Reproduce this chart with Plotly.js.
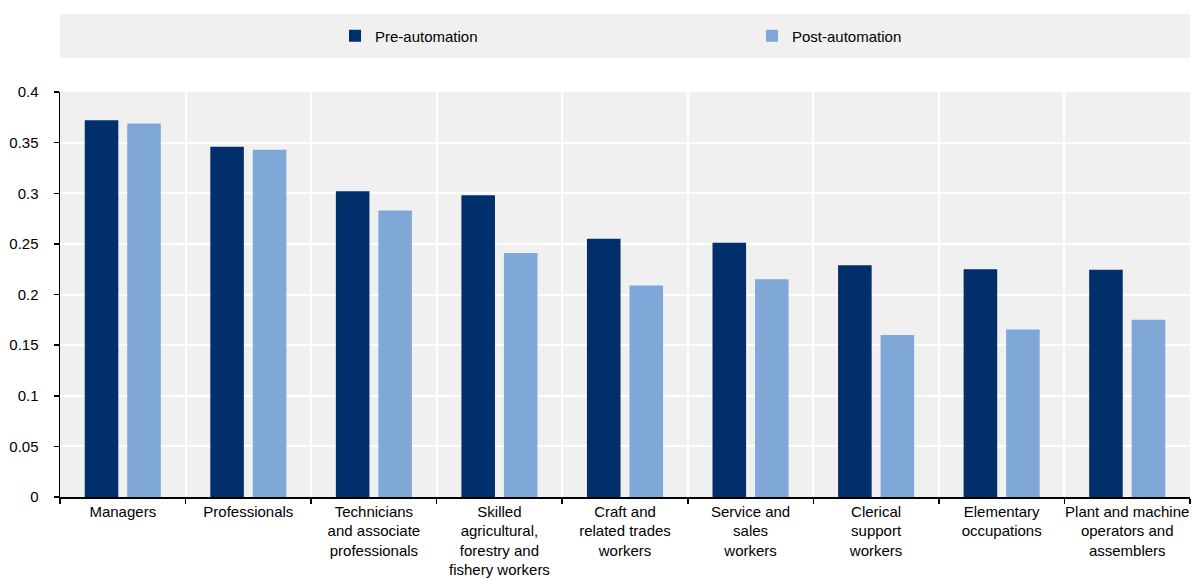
<!DOCTYPE html>
<html>
<head>
<meta charset="utf-8">
<script src="https://cdn.plot.ly/plotly-3.0.1.min.js"></script>
<style>html,body{margin:0;padding:0;background:#fff;}#chart{width:1192px;height:588px;}</style>
</head>
<body>
<div id="chart"></div>
<script>
const categories = [
  "Managers",
  "Professionals",
  "Technicians<br>and associate<br>professionals",
  "Skilled<br>agricultural,<br>forestry and<br>fishery workers",
  "Craft and<br>related trades<br>workers",
  "Service and<br>sales<br>workers",
  "Clerical<br>support<br>workers",
  "Elementary<br>occupations",
  "Plant and machine<br>operators and<br>assemblers"
];
const preAutomation  = [0.372, 0.346, 0.302, 0.298, 0.255, 0.251, 0.229, 0.225, 0.2245];
const postAutomation = [0.369, 0.343, 0.283, 0.241, 0.209, 0.215, 0.160, 0.1655, 0.175];
const seriesNames = ["Pre-automation", "Post-automation"];
const yTicks = [0, 0.05, 0.1, 0.15, 0.2, 0.25, 0.3, 0.35, 0.4];
const yTickLabels = ["0", "0.05", "0.1", "0.15", "0.2", "0.25", "0.3", "0.35", "0.4"];

const FONT = "'Liberation Sans Narrow', 'Arial Narrow', 'Liberation Sans', Arial, sans-serif";

const traces = [
  {type: "bar", name: seriesNames[0], x: categories, y: preAutomation,
   marker: {color: "#002F6C"}, hoverinfo: "y"},
  {type: "bar", name: seriesNames[1], x: categories, y: postAutomation,
   marker: {color: "#7FA8D9"}, hoverinfo: "y"}
];

const layout = {
  width: 1192, height: 588,
  margin: {l: 60, r: 2, t: 92, b: 91, autoexpand: false},
  paper_bgcolor: "#ffffff",
  plot_bgcolor: "#f0f0f0",
  font: {family: FONT, size: 15, color: "#000000"},
  barmode: "group",
  bargap: 0.323,
  bargroupgap: 0.21,
  showlegend: true,
  legend: {
    orientation: "h",
    xref: "container", yref: "container",
    x: 335 / 1192, xanchor: "left",
    y: 1 - 36 / 588, yanchor: "middle",
    bgcolor: "rgba(0,0,0,0)",
    entrywidth: 372, entrywidthmode: "pixels",
    font: {family: FONT, size: 15, color: "#000"},
    traceorder: "normal"
  },
  shapes: [
    {type: "rect", xref: "paper", yref: "paper",
     x0: 0, x1: 1, y0: (497 - 58) / 405, y1: (497 - 14) / 405,
     fillcolor: "#f0f0f0", line: {width: 0}, layer: "below"}
  ],
  xaxis: {
    type: "category",
    tickson: "boundaries",
    showgrid: true, gridcolor: "#ffffff", gridwidth: 2,
    showline: true, linecolor: "#000000", linewidth: 1.5,
    ticks: "outside", ticklen: 5, tickcolor: "#000000", tickwidth: 1.5,
    tickfont: {family: FONT, size: 15, color: "#000"},
    tickangle: 0,
    automargin: false,
    fixedrange: true
  },
  yaxis: {
    range: [0, 0.4],
    tickvals: yTicks, ticktext: yTickLabels,
    showgrid: true, gridcolor: "#ffffff", gridwidth: 2,
    zeroline: false,
    showline: true, linecolor: "#000000", linewidth: 1.5,
    ticks: "outside", ticklen: 5, tickcolor: "#000000", tickwidth: 1.5,
    ticklabelstandoff: 12,
    tickfont: {family: FONT, size: 15, color: "#000"},
    automargin: false,
    fixedrange: true
  }
};

Plotly.newPlot("chart", traces, layout, {displayModeBar: false, staticPlot: true});
</script>
</body>
</html>
